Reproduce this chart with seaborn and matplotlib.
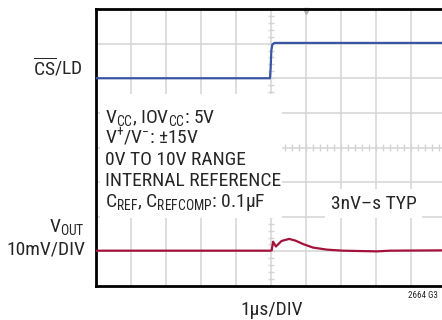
import numpy as np
import pandas as pd
import matplotlib
matplotlib.use("Agg")
import matplotlib.pyplot as plt
import matplotlib.patches as patches
import seaborn as sns

# trace data, in scope divisions (10 x 8 graticule)
cs_t = [0.0, 4.97, 4.99, 5.01, 5.04, 5.1, 10.0]
cs_v = [6.0, 6.0, 6.3, 6.8, 6.98, 7.02, 7.02]

vout_t = [0.0, 4.98, 5.02, 5.06, 5.14, 5.3, 5.52, 5.7, 5.92, 6.2, 6.6, 7.06, 7.54, 8.02, 8.4, 10.0]
vout_v = [1.02, 1.02, 1.03, 1.28, 1.14, 1.3, 1.36, 1.31, 1.21, 1.11, 1.05, 1.02, 1.01, 1.0, 1.02, 1.03]

cond_lines = ["V$_{\\mathrm{CC}}$, IOV$_{\\mathrm{CC}}$: 5V",
              "V$^{+}$/V$^{-}$: ±15V",
              "0V TO 10V RANGE",
              "INTERNAL REFERENCE",
              "C$_{\\mathrm{REF}}$, C$_{\\mathrm{REFCOMP}}$: 0.1µF"]

sns.set_style("white")
fam = ["Roboto Condensed", "Liberation Sans", "DejaVu Sans"]
plt.rcParams["font.family"] = fam
plt.rcParams["mathtext.fontset"] = "custom"
plt.rcParams["mathtext.rm"] = "Roboto Condensed"
plt.rcParams["mathtext.it"] = "Roboto Condensed"

blue = "#3a55a5"
red = "#a3123a"
gridc = "#d4d4d4"

fig = plt.figure(figsize=(4.42, 3.2), dpi=100)
ax = fig.add_axes([96/442, 1-286/320, 350/442, 277/320])
ax.set_xlim(0, 10)
ax.set_ylim(0, 8)

# graticule
for gx in range(1, 10):
    ax.axvline(gx, color=gridc, lw=1.1, zorder=1)
for gy in range(1, 8):
    ax.axhline(gy, color=gridc, lw=1.1, zorder=1)
mt = np.arange(0, 10.01, 0.2)
ax.vlines(mt, 4-0.09, 4+0.09, color=gridc, lw=1.0, zorder=1)
mt = np.arange(0, 8.01, 0.2)
ax.hlines(mt, 5-0.08, 5+0.08, color=gridc, lw=1.0, zorder=1)
ax.plot(6, 7.93, marker="v", color="#b0b0b0", ms=4, clip_on=False, zorder=1)

# white box behind the conditions text
ax.add_patch(patches.Rectangle((0.12, 1.95), 5.18, 3.6, facecolor="white",
                               edgecolor="none", zorder=2))

df_cs = pd.DataFrame({"t": cs_t, "v": cs_v})
df_out = pd.DataFrame({"t": vout_t, "v": vout_v})
sns.lineplot(data=df_cs, x="t", y="v", color=blue, lw=1.6, ax=ax, zorder=4)
sns.lineplot(data=df_out, x="t", y="v", color=red, lw=1.6, ax=ax, zorder=4)

ax.set_xticks([])
ax.set_yticks([])
ax.set_xlabel("")
ax.set_ylabel("")
for s in ["left", "bottom", "top"]:
    ax.spines[s].set_color("black")
    ax.spines[s].set_linewidth(2)
ax.spines["right"].set_visible(False)

fs = 14
ys = [4.71, 4.10, 3.50, 2.89, 2.28]
for s, yy in zip(cond_lines, ys):
    ax.text(0.26, yy, s, fontsize=fs, ha="left", va="baseline", zorder=5)

ax.text(7.94, 2.23, "3nV–s TYP", fontsize=fs, ha="center", va="baseline", zorder=5,
        bbox=dict(facecolor="white", edgecolor="none", pad=4))

ax.text(-0.37, 6.1, "$\\overline{\\mathrm{CS}}$/LD", fontsize=fs, ha="right",
        va="baseline", clip_on=False)
ax.text(-0.31, 1.56, "V$_{\\mathrm{OUT}}$", fontsize=fs, ha="right", va="baseline",
        clip_on=False)
ax.text(-0.31, 0.9, "10mV/DIV", fontsize=fs, ha="right", va="baseline", clip_on=False)
ax.text(5.03, -0.84, "1µs/DIV", fontsize=fs, ha="center", va="baseline", clip_on=False)
ax.text(8.9, -0.35, "2664 G3", fontsize=6.5, ha="left", va="baseline", clip_on=False)

fig.savefig("out.png", dpi=100)
